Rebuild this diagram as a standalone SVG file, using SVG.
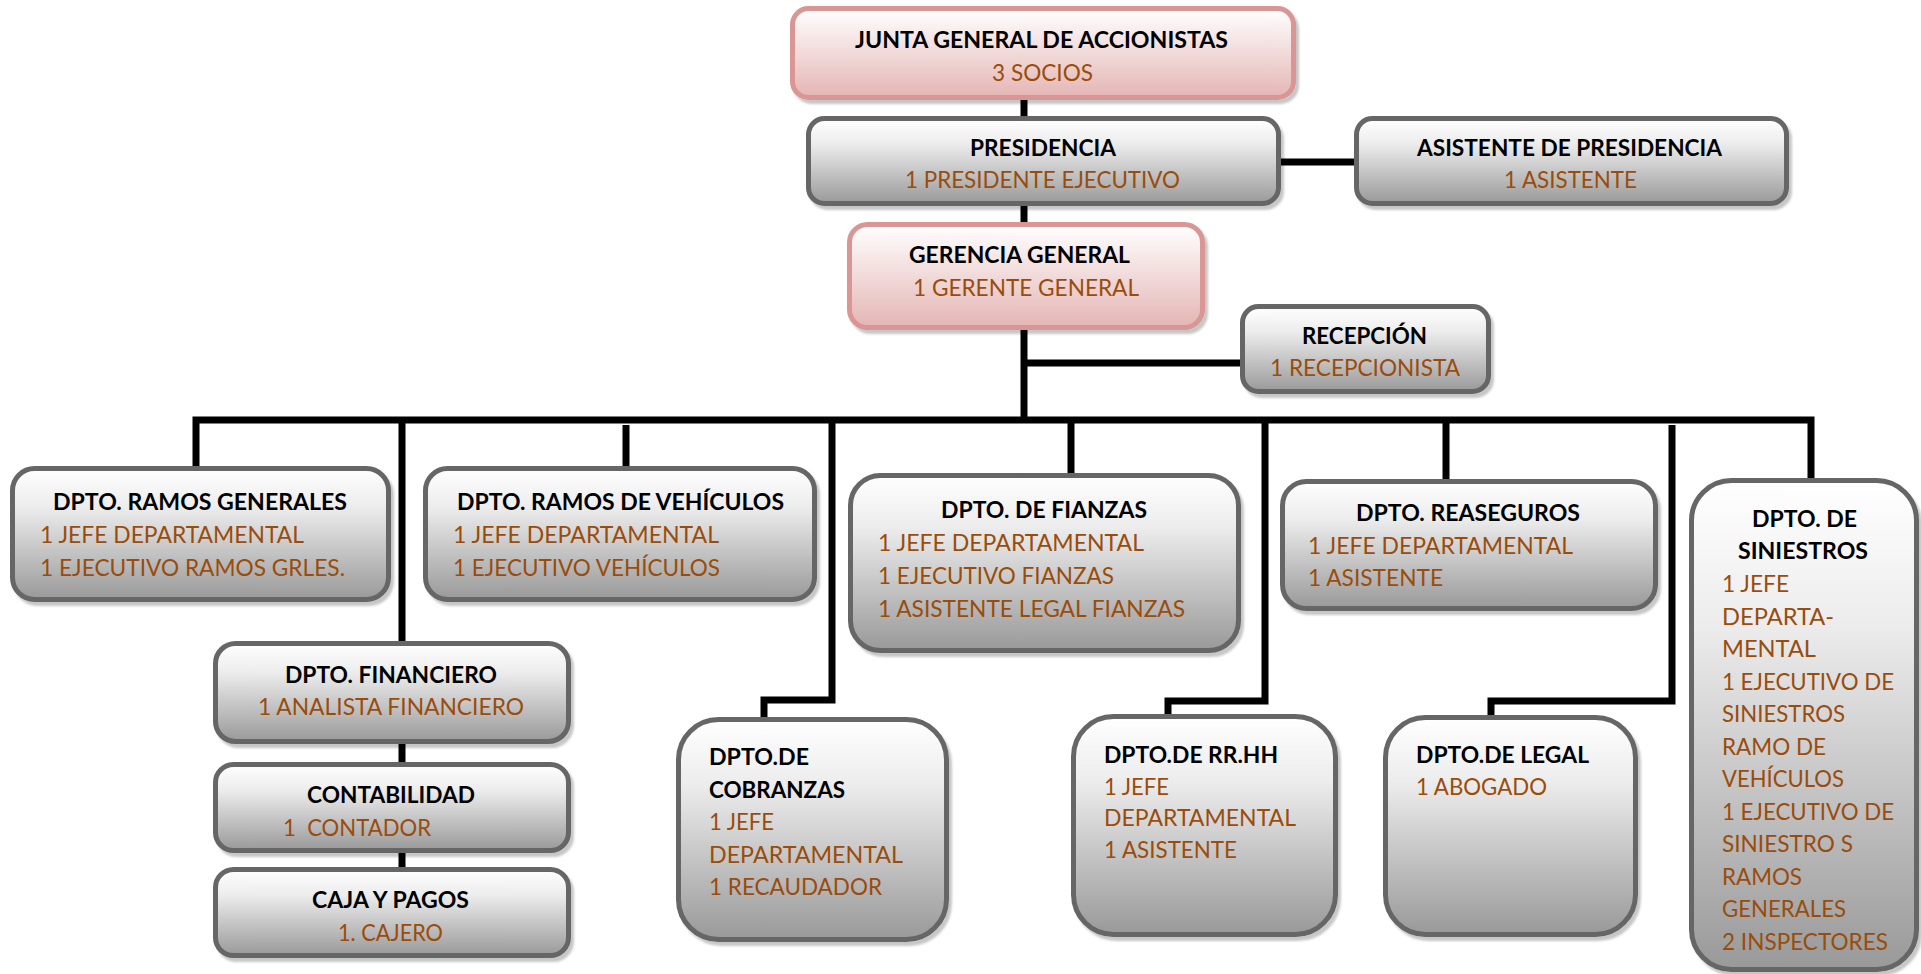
<svg xmlns="http://www.w3.org/2000/svg" width="1921" height="974" viewBox="0 0 1921 974">
  <defs>
    <linearGradient id="gGray" x1="0" y1="0" x2="0" y2="1">
      <stop offset="0" stop-color="#ffffff"/>
      <stop offset="0.3" stop-color="#ececec"/>
      <stop offset="1" stop-color="#999999"/>
    </linearGradient>
    <linearGradient id="gPink" x1="0" y1="0" x2="0" y2="1">
      <stop offset="0" stop-color="#ffffff"/>
      <stop offset="1" stop-color="#e4b5b4"/>
    </linearGradient>
    <filter id="shadow" x="-5%" y="-5%" width="115%" height="120%">
      <feDropShadow dx="3" dy="4" stdDeviation="1" flood-color="#000000" flood-opacity="0.22"/>
    </filter>
  </defs>
  <style>
    .box { fill: url(#gGray); stroke: #666666; stroke-width: 5; filter: url(#shadow); }
    .pink { fill: url(#gPink); stroke: #d99694; stroke-width: 5; filter: url(#shadow); }
    .t { font-family: Lato, "Open Sans", "Liberation Sans", sans-serif; font-size: 23px; font-weight: bold; fill: #000000; }
    .s { font-family: Lato, "Open Sans", "Liberation Sans", sans-serif; font-size: 23px; fill: #9a4c0c; }
    .c { text-anchor: middle; }
    .ln { fill: none; stroke: #000000; stroke-width: 7; stroke-linejoin: miter; stroke-linecap: butt; }
  </style>
  <rect width="1921" height="974" fill="#ffffff"/>

  <!-- connectors -->
  <g id="connectors">
    <path class="ln" d="M1024,98 V120"/>
    <path class="ln" d="M1024,203 V224"/>
    <path class="ln" d="M1279,162 H1357"/>
    <path class="ln" d="M1024,328 V420"/>
    <path class="ln" d="M1024,363 H1243"/>
    <path class="ln" d="M196,468 V420 H1811 V481"/>
    <path class="ln" d="M402,420 V644"/>
    <path class="ln" d="M626,425 V469"/>
    <path class="ln" d="M832,420 V700 H764 V720"/>
    <path class="ln" d="M1071,420 V476"/>
    <path class="ln" d="M1265,420 V701 H1168 V717"/>
    <path class="ln" d="M1446,420 V482"/>
    <path class="ln" d="M1672,425 V701 H1491 V718"/>
    <path class="ln" d="M402,742 V765"/>
    <path class="ln" d="M402,851 V870"/>
  </g>

  <g id="junta">
    <rect class="pink" x="792.5" y="8.5" width="501" height="89" rx="16"/>
    <text class="t c" x="1041.5" y="48" textLength="373" lengthAdjust="spacingAndGlyphs">JUNTA GENERAL DE ACCIONISTAS</text>
    <text class="s c" x="1042.5" y="81" textLength="101" lengthAdjust="spacingAndGlyphs">3 SOCIOS</text>
  </g>

  <g id="presidencia">
    <rect class="box" x="808.5" y="118.5" width="470" height="85" rx="16"/>
    <text class="t c" x="1043" y="156" textLength="146" lengthAdjust="spacingAndGlyphs">PRESIDENCIA</text>
    <text class="s c" x="1042.5" y="188" textLength="275" lengthAdjust="spacingAndGlyphs">1 PRESIDENTE EJECUTIVO</text>
  </g>

  <g id="asistente-presidencia">
    <rect class="box" x="1356.5" y="118.5" width="430" height="85" rx="16"/>
    <text class="t c" x="1569.5" y="156" textLength="305" lengthAdjust="spacingAndGlyphs">ASISTENTE DE PRESIDENCIA</text>
    <text class="s c" x="1570.5" y="188" textLength="133" lengthAdjust="spacingAndGlyphs">1 ASISTENTE</text>
  </g>

  <g id="gerencia">
    <rect class="pink" x="849.5" y="224.5" width="353" height="103" rx="18"/>
    <text class="t c" x="1019.5" y="263" textLength="221" lengthAdjust="spacingAndGlyphs">GERENCIA GENERAL</text>
    <text class="s c" x="1026" y="296" textLength="226" lengthAdjust="spacingAndGlyphs">1 GERENTE GENERAL</text>
  </g>

  <g id="recepcion">
    <rect class="box" x="1242.5" y="306.5" width="246" height="85" rx="16"/>
    <text class="t c" x="1364.5" y="344" textLength="125" lengthAdjust="spacingAndGlyphs">RECEPCIÓN</text>
    <text class="s c" x="1365" y="376" textLength="190" lengthAdjust="spacingAndGlyphs">1 RECEPCIONISTA</text>
  </g>

  <g id="ramos-generales">
    <rect class="box" x="12.5" y="468.5" width="376" height="131" rx="22"/>
    <text class="t c" x="200" y="510" textLength="294" lengthAdjust="spacingAndGlyphs">DPTO. RAMOS GENERALES</text>
    <text class="s" x="40" y="543" textLength="264" lengthAdjust="spacingAndGlyphs">1 JEFE DEPARTAMENTAL</text>
    <text class="s" x="40" y="576" textLength="305" lengthAdjust="spacingAndGlyphs">1 EJECUTIVO RAMOS GRLES.</text>
  </g>

  <g id="ramos-vehiculos">
    <rect class="box" x="425.5" y="468.5" width="389" height="131" rx="22"/>
    <text class="t c" x="620.5" y="510" textLength="327" lengthAdjust="spacingAndGlyphs">DPTO. RAMOS DE VEHÍCULOS</text>
    <text class="s" x="453" y="543" textLength="266" lengthAdjust="spacingAndGlyphs">1 JEFE DEPARTAMENTAL</text>
    <text class="s" x="453" y="576" textLength="267" lengthAdjust="spacingAndGlyphs">1 EJECUTIVO VEHÍCULOS</text>
  </g>

  <g id="fianzas">
    <rect class="box" x="850.5" y="475.5" width="388" height="175" rx="30"/>
    <text class="t c" x="1044" y="518" textLength="206" lengthAdjust="spacingAndGlyphs">DPTO. DE FIANZAS</text>
    <text class="s" x="878" y="551" textLength="266" lengthAdjust="spacingAndGlyphs">1 JEFE DEPARTAMENTAL</text>
    <text class="s" x="878" y="584" textLength="236" lengthAdjust="spacingAndGlyphs">1 EJECUTIVO FIANZAS</text>
    <text class="s" x="878" y="617" textLength="307" lengthAdjust="spacingAndGlyphs">1 ASISTENTE LEGAL FIANZAS</text>
  </g>

  <g id="reaseguros">
    <rect class="box" x="1282.5" y="481.5" width="373" height="127" rx="24"/>
    <text class="t c" x="1468" y="521" textLength="224" lengthAdjust="spacingAndGlyphs">DPTO. REASEGUROS</text>
    <text class="s" x="1308" y="554" textLength="265" lengthAdjust="spacingAndGlyphs">1 JEFE DEPARTAMENTAL</text>
    <text class="s" x="1308" y="586" textLength="135" lengthAdjust="spacingAndGlyphs">1 ASISTENTE</text>
  </g>

  <g id="siniestros">
    <rect class="box" x="1691.5" y="480.5" width="225" height="489" rx="40"/>
    <text class="t c" x="1804.5" y="527" textLength="105" lengthAdjust="spacingAndGlyphs">DPTO. DE</text>
    <text class="t c" x="1803" y="559" textLength="130" lengthAdjust="spacingAndGlyphs">SINIESTROS</text>
    <text class="s" x="1722" y="592" textLength="67" lengthAdjust="spacingAndGlyphs">1 JEFE</text>
    <text class="s" x="1722" y="624.5" textLength="112" lengthAdjust="spacingAndGlyphs">DEPARTA-</text>
    <text class="s" x="1722" y="657" textLength="94" lengthAdjust="spacingAndGlyphs">MENTAL</text>
    <text class="s" x="1722" y="689.5" textLength="172" lengthAdjust="spacingAndGlyphs">1 EJECUTIVO DE</text>
    <text class="s" x="1722" y="722" textLength="123" lengthAdjust="spacingAndGlyphs">SINIESTROS</text>
    <text class="s" x="1722" y="754.5" textLength="104" lengthAdjust="spacingAndGlyphs">RAMO DE</text>
    <text class="s" x="1722" y="787" textLength="122" lengthAdjust="spacingAndGlyphs">VEHÍCULOS</text>
    <text class="s" x="1722" y="819.5" textLength="172" lengthAdjust="spacingAndGlyphs">1 EJECUTIVO DE</text>
    <text class="s" x="1722" y="852" textLength="131" lengthAdjust="spacingAndGlyphs">SINIESTRO S</text>
    <text class="s" x="1722" y="884.5" textLength="80" lengthAdjust="spacingAndGlyphs">RAMOS</text>
    <text class="s" x="1722" y="917" textLength="124" lengthAdjust="spacingAndGlyphs">GENERALES</text>
    <text class="s" x="1722" y="949.5" textLength="166" lengthAdjust="spacingAndGlyphs">2 INSPECTORES</text>
  </g>

  <g id="financiero">
    <rect class="box" x="215.5" y="643.5" width="353" height="98" rx="20"/>
    <text class="t c" x="391" y="683" textLength="212" lengthAdjust="spacingAndGlyphs">DPTO. FINANCIERO</text>
    <text class="s c" x="391" y="715" textLength="266" lengthAdjust="spacingAndGlyphs">1 ANALISTA FINANCIERO</text>
  </g>

  <g id="contabilidad">
    <rect class="box" x="215.5" y="764.5" width="353" height="86" rx="18"/>
    <text class="t c" x="391" y="803" textLength="168" lengthAdjust="spacingAndGlyphs">CONTABILIDAD</text>
    <text class="s" x="283" y="836" textLength="148" lengthAdjust="spacingAndGlyphs" xml:space="preserve">1  CONTADOR</text>
  </g>

  <g id="caja-pagos">
    <rect class="box" x="215.5" y="869.5" width="353" height="86" rx="18"/>
    <text class="t c" x="390.5" y="908" textLength="157" lengthAdjust="spacingAndGlyphs">CAJA Y PAGOS</text>
    <text class="s c" x="390.5" y="941" textLength="105" lengthAdjust="spacingAndGlyphs">1. CAJERO</text>
  </g>

  <g id="cobranzas">
    <rect class="box" x="678.5" y="719.5" width="268" height="220" rx="40"/>
    <text class="t" x="709" y="765" textLength="100" lengthAdjust="spacingAndGlyphs">DPTO.DE</text>
    <text class="t" x="709" y="798" textLength="136" lengthAdjust="spacingAndGlyphs">COBRANZAS</text>
    <text class="s" x="709" y="830" textLength="65" lengthAdjust="spacingAndGlyphs">1 JEFE</text>
    <text class="s" x="709" y="863" textLength="194" lengthAdjust="spacingAndGlyphs">DEPARTAMENTAL</text>
    <text class="s" x="709" y="895" textLength="173" lengthAdjust="spacingAndGlyphs">1 RECAUDADOR</text>
  </g>

  <g id="rrhh">
    <rect class="box" x="1073.5" y="716.5" width="262" height="218" rx="40"/>
    <text class="t" x="1104" y="763" textLength="174" lengthAdjust="spacingAndGlyphs">DPTO.DE RR.HH</text>
    <text class="s" x="1104" y="795" textLength="65" lengthAdjust="spacingAndGlyphs">1 JEFE</text>
    <text class="s" x="1104" y="826" textLength="192" lengthAdjust="spacingAndGlyphs">DEPARTAMENTAL</text>
    <text class="s" x="1104" y="858" textLength="133" lengthAdjust="spacingAndGlyphs">1 ASISTENTE</text>
  </g>

  <g id="legal">
    <rect class="box" x="1385.5" y="717.5" width="250" height="217" rx="40"/>
    <text class="t" x="1416" y="763" textLength="173" lengthAdjust="spacingAndGlyphs">DPTO.DE LEGAL</text>
    <text class="s" x="1416" y="795" textLength="131" lengthAdjust="spacingAndGlyphs">1 ABOGADO</text>
  </g>
</svg>
